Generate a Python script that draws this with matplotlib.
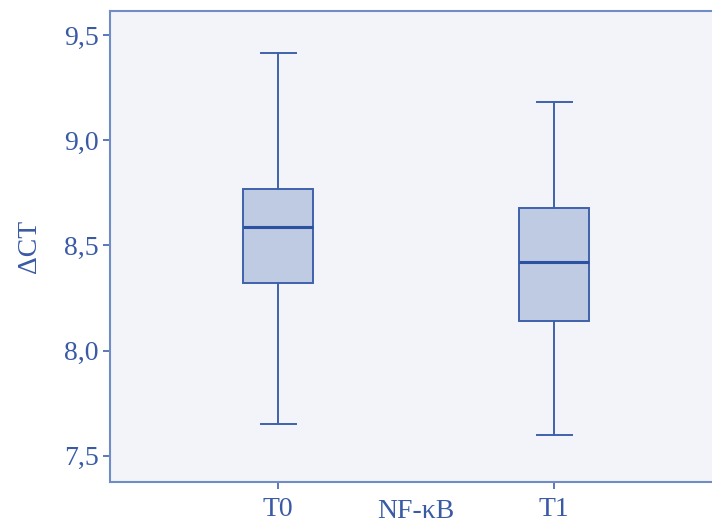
import matplotlib
matplotlib.use("Agg")
import matplotlib.pyplot as plt

categories = ["T0", "T1"]
whisker_low = [7.65, 7.60]
q1 = [8.32, 8.14]
median = [8.59, 8.42]
q3 = [8.77, 8.68]
whisker_high = [9.415, 9.18]

blue = "#3E62AB"
text_blue = "#3A5AA5"
plt.rcParams['font.family'] = ['Liberation Serif', 'DejaVu Serif']

fig = plt.figure(figsize=(7.12, 5.27), dpi=100)
ax = fig.add_axes([0.1545, 0.0854, 0.8455, 0.8928])
ax.set_facecolor("#F2F4FA")

stats = []
for i, c in enumerate(categories):
    stats.append(dict(label=c, whislo=whisker_low[i], q1=q1[i], med=median[i],
                      q3=q3[i], whishi=whisker_high[i], fliers=[]))
pos = list(range(len(categories)))
ax.bxp(stats, positions=pos, widths=0.254, patch_artist=True, showfliers=False,
       capwidths=0.127,
       boxprops=dict(facecolor="#BFCAE3", edgecolor=blue, linewidth=1.4),
       medianprops=dict(color="#2B52A0", linewidth=2.2),
       whiskerprops=dict(color=blue, linewidth=1.4),
       capprops=dict(color=blue, linewidth=1.4))

ax.set_xlim(-0.609, 1.572)
ax.set_ylim(7.376, 9.612)
ax.set_yticks([7.5, 8.0, 8.5, 9.0, 9.5])
ax.set_yticklabels(["7,5", "8,0", "8,5", "9,0", "9,5"])
ax.set_xticks(pos)
ax.set_xticklabels(categories)

for s in ["left", "top", "bottom"]:
    ax.spines[s].set_color("#6F8CC4")
    ax.spines[s].set_linewidth(1.5)
ax.spines["right"].set_visible(False)

ax.tick_params(axis="both", colors=blue, labelcolor=text_blue, labelsize=20,
               length=5, width=1.2, direction="out")
ax.tick_params(axis="y", pad=3)
ax.tick_params(axis="x", pad=6)

ax.set_ylabel("ΔCT", color=text_blue, fontsize=20, labelpad=16)
ax.text(0.5, -0.036, "NF-κB", transform=ax.get_xaxis_transform(),
        ha="center", va="top", color=text_blue, fontsize=20)

fig.savefig("out.png", dpi=100)
